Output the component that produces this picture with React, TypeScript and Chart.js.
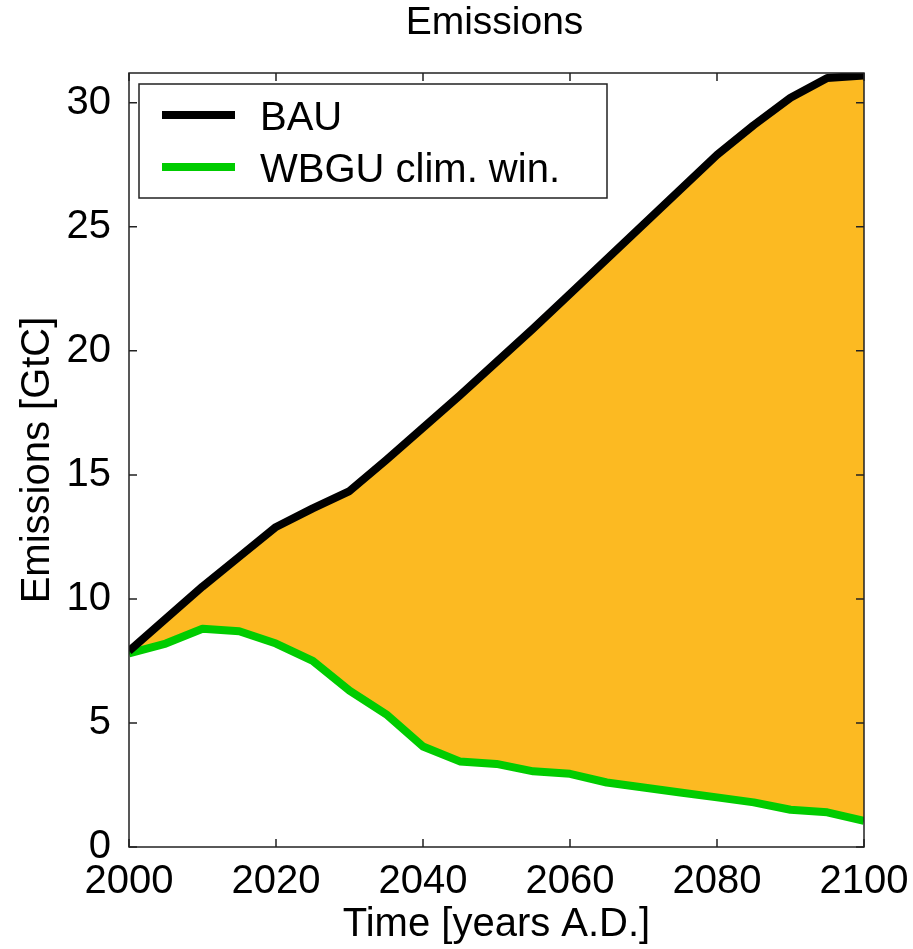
import React, { useEffect, useRef } from "react";
import { Chart, registerables } from "chart.js";

Chart.register(...registerables);

const YEARS = [2000, 2005, 2010, 2015, 2020, 2025, 2030, 2035, 2040, 2045, 2050, 2055, 2060, 2065, 2070, 2075, 2080, 2085, 2090, 2095, 2100];
const BAU = [7.9, 9.2, 10.5, 11.7, 12.9, 13.65, 14.35, 15.6, 16.9, 18.2, 19.55, 20.9, 22.3, 23.7, 25.1, 26.5, 27.9, 29.1, 30.2, 31.0, 31.1];
const WBGU = [7.8, 8.2, 8.8, 8.7, 8.2, 7.5, 6.3, 5.35, 4.05, 3.45, 3.35, 3.05, 2.95, 2.6, 2.4, 2.2, 2.0, 1.8, 1.5, 1.4, 1.05];
const X_TICKS = [2000, 2020, 2040, 2060, 2080, 2100];
const Y_TICKS = [0, 5, 10, 15, 20, 25, 30];
const LABELS = ["BAU", "WBGU clim. win."];
const TITLE = "Emissions";
const X_TITLE = "Time [years A.D.]";
const Y_TITLE = "Emissions [GtC]";

const FONT = '"Liberation Sans", Arial, Helvetica, sans-serif';

const framePlugin = {
  id: "frameTicks",
  afterDraw(chart: any) {
    const { ctx, chartArea } = chart;
    const xs = chart.scales.x;
    const ys = chart.scales.y;
    const { left, right, top, bottom } = chartArea;
    ctx.save();
    ctx.strokeStyle = "#222";
    ctx.lineWidth = 1.5;
    ctx.strokeRect(left, top, right - left, bottom - top);
    const tl = 8;
    ctx.beginPath();
    X_TICKS.forEach((v) => {
      const px = xs.getPixelForValue(v);
      ctx.moveTo(px, bottom);
      ctx.lineTo(px, bottom - tl);
      ctx.moveTo(px, top);
      ctx.lineTo(px, top + tl);
    });
    Y_TICKS.forEach((v) => {
      const py = ys.getPixelForValue(v);
      ctx.moveTo(left, py);
      ctx.lineTo(left + tl, py);
      ctx.moveTo(right, py);
      ctx.lineTo(right - tl, py);
    });
    ctx.stroke();

    // title
    ctx.fillStyle = "#000";
    ctx.font = `39px ${FONT}`;
    ctx.textAlign = "center";
    ctx.textBaseline = "alphabetic";
    ctx.fillText(TITLE, (left + right) / 2 - 2, 34);

    // legend
    const bx = 139, by = 84, bw = 468, bh = 114;
    ctx.fillStyle = "#fff";
    ctx.fillRect(bx, by, bw, bh);
    ctx.strokeStyle = "#222";
    ctx.lineWidth = 1.5;
    ctx.strokeRect(bx, by, bw, bh);
    const ds = chart.data.datasets;
    const rows = [115, 167];
    ds.forEach((d: any, i: number) => {
      const y = rows[i];
      ctx.strokeStyle = d.borderColor;
      ctx.lineWidth = 8;
      ctx.lineCap = "butt";
      ctx.beginPath();
      ctx.moveTo(162, y);
      ctx.lineTo(235, y);
      ctx.stroke();
      ctx.fillStyle = "#000";
      ctx.font = `40px ${FONT}`;
      ctx.textAlign = "left";
      ctx.textBaseline = "alphabetic";
      ctx.fillText(d.label, 260, y + 15);
    });
    ctx.restore();
  },
};

export default function App() {
  const ref = useRef<HTMLCanvasElement | null>(null);
  useEffect(() => {
    document.body.style.margin = "0";
    const canvas = ref.current!;
    const chart = new Chart(canvas, {
      type: "line",
      data: {
        datasets: [
          {
            label: LABELS[0],
            data: YEARS.map((x, i) => ({ x, y: BAU[i] })),
            borderColor: "#000000",
            borderWidth: 8,
            pointRadius: 0,
            tension: 0,
            fill: false,
            borderJoinStyle: "round",
          },
          {
            label: LABELS[1],
            data: YEARS.map((x, i) => ({ x, y: WBGU[i] })),
            borderColor: "#00CC00",
            backgroundColor: "#FCBA22",
            borderWidth: 8,
            pointRadius: 0,
            tension: 0,
            fill: "-1",
            borderJoinStyle: "round",
          },
        ],
      },
      options: {
        animation: false,
        responsive: false,
        devicePixelRatio: 1,
        layout: { padding: { top: 73, right: 49, left: 0, bottom: 0 } },
        plugins: {
          legend: { display: false },
          title: { display: false },
          tooltip: { enabled: false },
          filler: { drawTime: "beforeDatasetsDraw" },
        },
        scales: {
          x: {
            type: "linear",
            min: 2000,
            max: 2100,
            grid: { display: false },
            border: { display: false },
            afterBuildTicks: (s: any) => {
              s.ticks = X_TICKS.map((v) => ({ value: v }));
            },
            afterFit: (s: any) => {
              s.height = 102;
            },
            ticks: {
              color: "#000",
              font: { family: FONT, size: 40 },
              padding: 3,
              maxRotation: 0,
              autoSkip: false,
              callback: (v: any) => String(v),
            },
            title: {
              display: true,
              text: X_TITLE,
              color: "#000",
              font: { family: FONT, size: 40 },
              padding: { top: 0, bottom: 0 },
            },
          },
          y: {
            type: "linear",
            min: 0,
            max: 31.2,
            grid: { display: false },
            border: { display: false },
            afterBuildTicks: (s: any) => {
              s.ticks = Y_TICKS.map((v) => ({ value: v }));
            },
            afterFit: (s: any) => {
              s.width = 129;
            },
            ticks: {
              color: "#000",
              font: { family: FONT, size: 40 },
              padding: 10,
              autoSkip: false,
              callback: (v: any) => String(v),
            },
            title: {
              display: true,
              text: Y_TITLE,
              color: "#000",
              font: { family: FONT, size: 40 },
              padding: { top: 14, bottom: 0 },
            },
          },
        },
      } as any,
      plugins: [framePlugin],
    });
    return () => chart.destroy();
  }, []);
  return (
    <div style={{ position: "absolute", left: 0, top: 0, width: 913, height: 949, background: "#fff" }}>
      <canvas ref={ref} width={913} height={949} style={{ display: "block" }} />
    </div>
  );
}
